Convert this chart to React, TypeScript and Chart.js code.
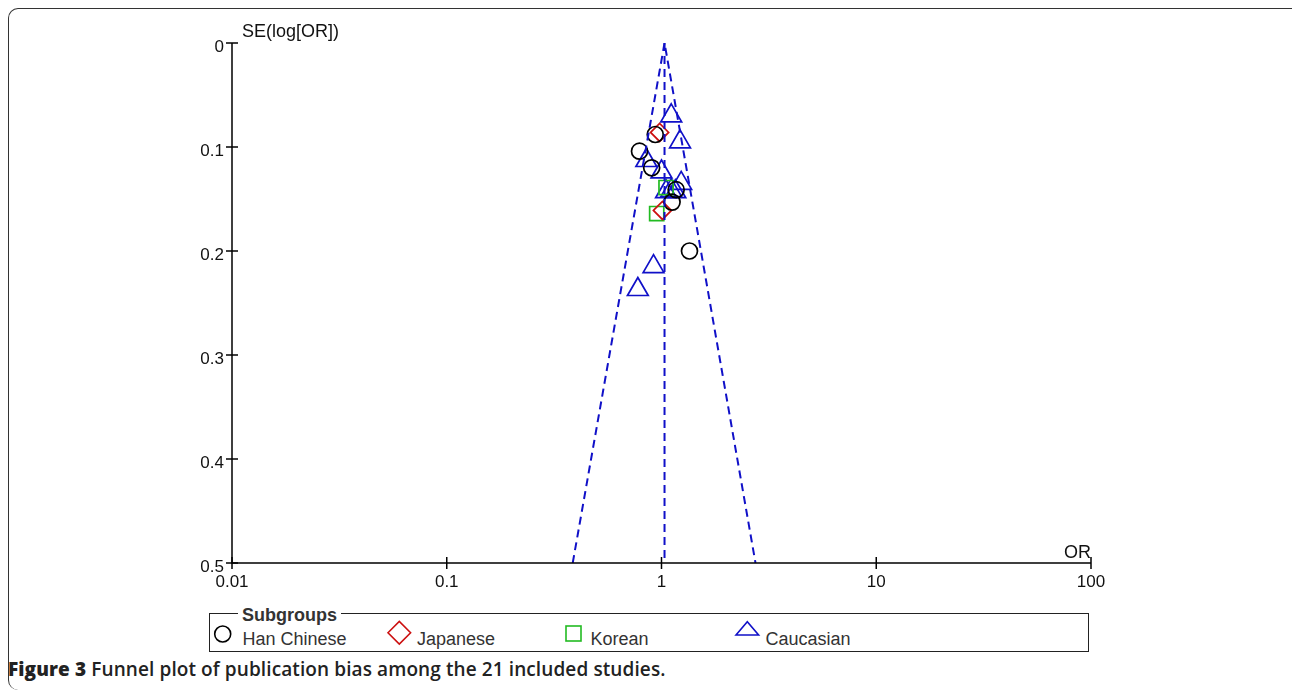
import React, { useEffect, useRef } from "react";
import { Chart, registerables } from "chart.js";

Chart.register(...registerables);

// ---- Data ----
const xTickValues = [0.01, 0.1, 1, 10, 100];
const xTickLabels = ["0.01", "0.1", "1", "10", "100"];
const yTickValues = [0, 0.1, 0.2, 0.3, 0.4, 0.5];
const yTickLabels = ["0", "0.1", "0.2", "0.3", "0.4", "0.5"];

const hanOR = [0.935, 0.79, 0.9, 1.17, 1.12, 1.35];
const hanSE = [0.088, 0.104, 0.12, 0.141, 0.153, 0.2];

const japOR = [0.98, 1.01];
const japSE = [0.086, 0.161];

const korOR = [1.05, 0.95];
const korSE = [0.139, 0.164];

const cauOR = [1.11, 1.22, 0.85, 1.0, 1.235, 1.05, 1.11, 1.16, 0.918, 0.776];
const cauSE = [0.07, 0.095, 0.113, 0.124, 0.135, 0.143, 0.142, 0.143, 0.215, 0.237];

const funnelOR = [0.386, 1.033, 2.74];
const funnelSE = [0.5, 0, 0.5];
const centerOR = [1.033, 1.033];
const centerSE = [0, 0.5];

const legendNames = ["Han Chinese", "Japanese", "Korean", "Caucasian"];

const BLUE = "#1010c8";
const RED = "#cc1010";
const GREEN = "#22bb22";
const BLACK = "#000000";

const pts = (xs: number[], ys: number[]) => xs.map((x, i) => ({ x, y: ys[i] }));

const axesPlugin = {
  id: "customAxes",
  afterDraw(chart: any) {
    const { ctx, chartArea, scales } = chart;
    const xs = scales.x;
    const ys = scales.y;
    ctx.save();
    ctx.strokeStyle = "#000";
    ctx.lineWidth = 1.5;
    ctx.beginPath();
    ctx.moveTo(chartArea.left, chartArea.top);
    ctx.lineTo(chartArea.left, chartArea.bottom);
    ctx.lineTo(chartArea.right, chartArea.bottom);
    ctx.stroke();
    ctx.fillStyle = "#111";
    ctx.font = "17px 'Liberation Sans', Arial, sans-serif";
    ctx.textAlign = "right";
    ctx.textBaseline = "middle";
    yTickValues.forEach((v, i) => {
      const y = ys.getPixelForValue(v);
      ctx.beginPath();
      ctx.moveTo(chartArea.left - 6, y);
      ctx.lineTo(chartArea.left + 6, y);
      ctx.stroke();
      ctx.fillText(yTickLabels[i], chartArea.left - 8, y + 4);
    });
    ctx.textAlign = "center";
    xTickValues.forEach((v, i) => {
      const x = xs.getPixelForValue(v);
      ctx.beginPath();
      ctx.moveTo(x, chartArea.bottom - 6);
      ctx.lineTo(x, chartArea.bottom + 6);
      ctx.stroke();
      ctx.fillText(xTickLabels[i], x, chartArea.bottom + 19);
    });
    ctx.font = "18px 'Liberation Sans', Arial, sans-serif";
    ctx.textAlign = "left";
    ctx.fillText("SE(log[OR])", chartArea.left + 10, chartArea.top - 11);
    ctx.textAlign = "right";
    ctx.fillText("OR", chartArea.right, chartArea.bottom - 10);
    ctx.restore();
  },
};

function ChartCanvas() {
  const ref = useRef<HTMLCanvasElement | null>(null);
  useEffect(() => {
    if (!ref.current) return;
    const chart = new Chart(ref.current, {
      type: "scatter",
      data: {
        datasets: [
          {
            label: "funnel",
            data: pts(funnelOR, funnelSE),
            showLine: true,
            pointRadius: 0,
            borderColor: BLUE,
            borderWidth: 2,
            borderDash: [8, 5],
            fill: false,
          },
          {
            label: "center",
            data: pts(centerOR, centerSE),
            showLine: true,
            pointRadius: 0,
            borderColor: BLUE,
            borderWidth: 2,
            borderDash: [8, 5],
            fill: false,
          },
          {
            label: legendNames[0],
            data: pts(hanOR, hanSE),
            pointStyle: "circle",
            pointRadius: 8,
            borderColor: BLACK,
            backgroundColor: "rgba(0,0,0,0)",
            borderWidth: 1.7,
          },
          {
            label: legendNames[1],
            data: pts(japOR, japSE),
            pointStyle: "rectRot",
            pointRadius: 9,
            borderColor: RED,
            backgroundColor: "rgba(0,0,0,0)",
            borderWidth: 1.7,
          },
          {
            label: legendNames[2],
            data: pts(korOR, korSE),
            pointStyle: "rect",
            pointRadius: 10,
            borderColor: GREEN,
            backgroundColor: "rgba(0,0,0,0)",
            borderWidth: 1.7,
          },
          {
            label: legendNames[3],
            data: pts(cauOR, cauSE),
            pointStyle: "triangle",
            pointRadius: 12,
            borderColor: BLUE,
            backgroundColor: "rgba(0,0,0,0)",
            borderWidth: 1.7,
          },
        ],
      },
      options: {
        animation: false,
        responsive: false,
        maintainAspectRatio: false,
        layout: { padding: { left: 232, right: 201, top: 43, bottom: 37 } },
        plugins: { legend: { display: false }, tooltip: { enabled: false } },
        scales: {
          x: { type: "logarithmic", min: 0.01, max: 100, display: false },
          y: { type: "linear", min: 0, max: 0.5, reverse: true, display: false },
        },
      },
      plugins: [axesPlugin],
    });
    return () => chart.destroy();
  }, []);
  return <canvas ref={ref} width={1292} height={600} style={{ position: "absolute", left: 0, top: 0, display: "block" }} />;
}

const textStyle: React.CSSProperties = {
  position: "absolute",
  fontFamily: "'Liberation Sans', Arial, sans-serif",
  fontSize: 18,
  color: "#333",
  lineHeight: "20px",
  whiteSpace: "nowrap",
};

export default function App() {
  return (
    <div style={{ position: "absolute", left: 0, top: 0, width: 1292, height: 700, overflow: "hidden", background: "#fff" }}>
      <div
        style={{
          position: "absolute",
          left: 8,
          top: 8,
          width: 1300,
          height: 682,
          borderLeft: "1.5px solid #333",
          borderTop: "1.5px solid #333",
          borderRight: "1.5px solid #333",
          borderTopLeftRadius: 10,
          borderTopRightRadius: 10,
          borderBottomLeftRadius: 10,
          boxSizing: "border-box",
        }}
      />
      <ChartCanvas />
      <div
        style={{
          position: "absolute",
          left: 209,
          top: 613,
          width: 880,
          height: 39,
          border: "1.5px solid #222",
          boxSizing: "border-box",
        }}
      />
      <div style={{ ...textStyle, left: 238, top: 605, fontWeight: 700, background: "#fff", padding: "0 4px" }}>Subgroups</div>
      <svg style={{ position: "absolute", left: 0, top: 600 }} width={1292} height={60}>
        <circle cx={222.7} cy={34} r={8} fill="none" stroke={BLACK} strokeWidth={1.6} />
        <polygon points="388,32.7 399.3,21.5 410.6,32.7 399.3,44" fill="none" stroke={RED} strokeWidth={1.6} />
        <rect x={566} y={26} width={15} height={15} fill="none" stroke={GREEN} strokeWidth={1.6} />
        <polygon points="736,35 747.3,21.7 758.6,35" fill="none" stroke={BLUE} strokeWidth={1.6} />
      </svg>
      <div style={{ ...textStyle, left: 242.5, top: 629 }}>{legendNames[0]}</div>
      <div style={{ ...textStyle, left: 417, top: 629 }}>{legendNames[1]}</div>
      <div style={{ ...textStyle, left: 590.5, top: 629 }}>{legendNames[2]}</div>
      <div style={{ ...textStyle, left: 765.5, top: 629 }}>{legendNames[3]}</div>
      <div
        style={{
          position: "absolute",
          left: 8,
          top: 657,
          fontFamily: "'Open Sans', 'Noto Sans', sans-serif",
          fontSize: 19,
          fontWeight: 600,
          color: "#222",
          lineHeight: "24px",
          whiteSpace: "nowrap",
          letterSpacing: "0.1px",
        }}
      >
        <span style={{ fontWeight: 800 }}>Figure 3</span> Funnel plot of publication bias among the 21 included studies.
      </div>
    </div>
  );
}
